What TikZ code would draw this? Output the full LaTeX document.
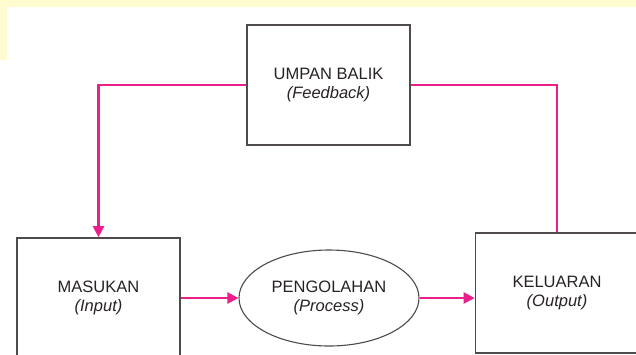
\documentclass[tikz,border=0pt]{standalone}
\usepackage{fontspec}
\setmainfont{Liberation Sans}
\usetikzlibrary{arrows.meta,shapes.geometric}
\definecolor{fbpink}{RGB}{236,30,140}
\definecolor{boxline}{RGB}{80,75,75}
\definecolor{txt}{RGB}{40,35,35}
\definecolor{bgyel}{RGB}{255,253,208}
\tikzset{
  blk/.style={draw=boxline, line width=1.6pt, rectangle, minimum width=163pt, minimum height=120pt,
    align=center, text=txt, font=\fontsize{16.5}{19.5}\selectfont, fill=white},
  procshape/.style={draw=boxline, line width=1.1pt, ellipse, minimum width=180pt, minimum height=96pt,
    align=center, text=txt, font=\fontsize{16.5}{19.5}\selectfont, fill=white, inner sep=0pt},
  link/.style={draw=fbpink, line width=2.2pt, -{Triangle[length=11pt,width=11pt]}},
  plainlink/.style={draw=fbpink, line width=2.2pt}
}
\begin{document}
\begin{tikzpicture}[x=1pt,y=-1pt]
\useasboundingbox (0,0) rectangle (636,354);
\clip (0,0) rectangle (636,354);
\fill[white] (0,0) rectangle (636,354);
\fill[bgyel] (0,0) rectangle (636,7);
\fill[bgyel] (0,0) rectangle (7,60);
\node[blk] (fb) at (328.5,85) {UMPAN BALIK\\\textit{(Feedback)}};
\node[blk] (in) at (98.5,298) {MASUKAN\\\textit{(Input)}};
\node[procshape] (proc) at (329,298) {PENGOLAHAN\\\textit{(Process)}};
\node[blk] (out) at (557,293) {KELUARAN\\\textit{(Output)}};
\draw[link] (fb.west) -| (in.north);
\draw[plainlink] (out.north) |- (fb.east);
\draw[link] (in.east) -- (proc.west);
\draw[link] (proc.east) -- (proc.east -| out.west);
\end{tikzpicture}
\end{document}
